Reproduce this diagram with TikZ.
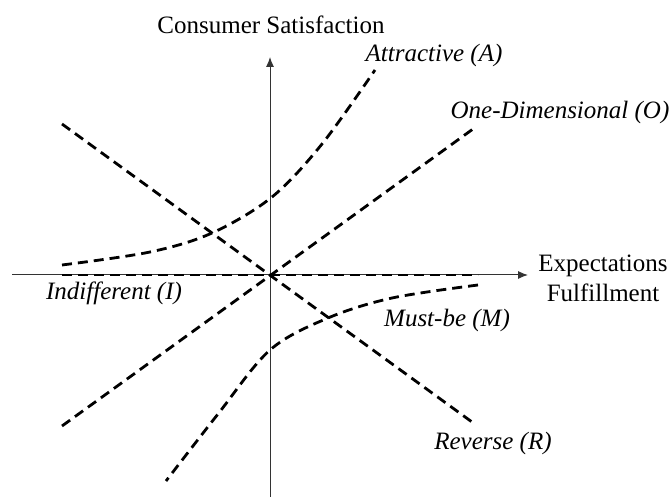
\documentclass[tikz,border=0pt]{standalone}
\usepackage{fontspec}
\setmainfont{Liberation Serif}
\usetikzlibrary{arrows.meta}
\begin{document}
\begin{tikzpicture}[x=0.5pt,y=-0.5pt,
  axis/.style={line width=0.5pt,draw=black!80,-{Latex[length=5pt,width=4pt]}},
  curve/.style={line width=1.4pt,dash pattern=on 5pt off 3pt},
  lbl/.style={inner sep=0pt,font=\fontsize{12.5}{15}\selectfont},
  ilbl/.style={lbl,font=\fontsize{12.5}{15}\selectfont\itshape}]
\useasboundingbox (0,0) rectangle (671,497);

% axes
\coordinate (O) at (270,275);
\coordinate (xs) at (12,275);
\coordinate (xe) at (528,275);
\coordinate (ys) at (270,497);
\coordinate (ye) at (270,57);
\draw[axis] (xs) -- (xe);
\draw[axis] (ys) -- (ye);

% axis titles
\node[lbl] (ytitle) at (271,25) {Consumer Satisfaction};
\node[lbl,align=center] (xtitle) at (603,278) {Expectations\\Fulfillment};

% straight categories
\coordinate (i0) at (62,275);
\coordinate (i1) at (478,275);
\coordinate (r0) at (62,124);
\coordinate (r1) at (472,422);
\coordinate (o0) at (62,426);
\coordinate (o1) at (473,129);
\draw[curve] (i0) -- (i1);
\draw[curve] (r0) -- (r1);
\draw[curve] (o0) -- (o1);

% curved categories
\draw[curve] plot[smooth,tension=0.55] coordinates
  {(62,265) (150,252) (212,233) (272,197) (322,144) (375,70)};
\draw[curve] plot[smooth,tension=0.55] coordinates
  {(478,285) (392,298) (328,318) (270,350) (218,414) (166,481)};

% category labels
\node[ilbl] (A) at (434,55) {Attractive (A)};
\node[ilbl] (Od) at (560,112) {One-Dimensional (O)};
\node[ilbl] (I) at (114,293) {Indifferent (I)};
\node[ilbl] (M) at (447,320) {Must-be (M)};
\node[ilbl] (R) at (493,443) {Reverse (R)};
\end{tikzpicture}
\end{document}
